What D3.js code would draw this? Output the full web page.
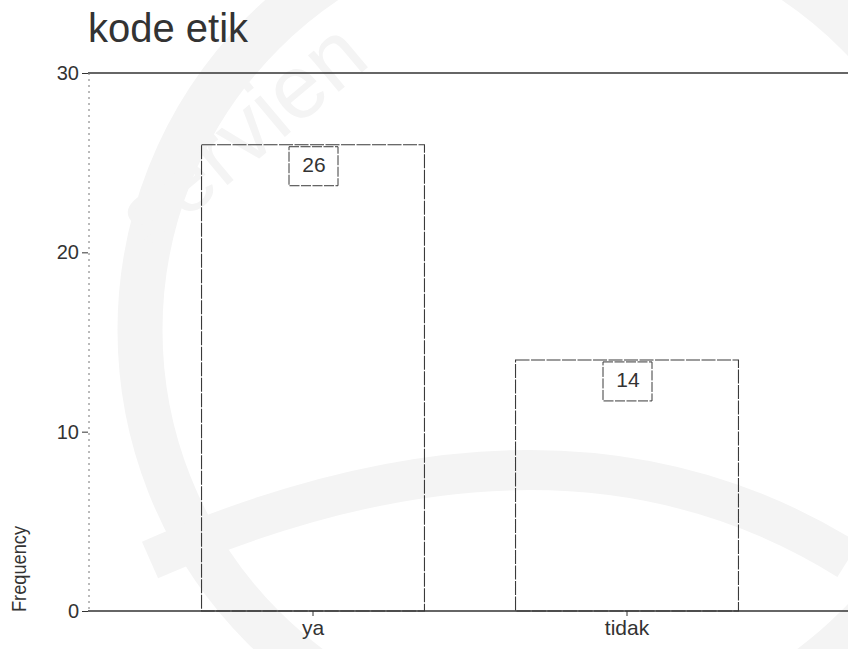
<!DOCTYPE html>
<html>
<head>
<meta charset="utf-8">
<script src="https://cdn.jsdelivr.net/npm/d3@7"></script>
<style>
  body { margin: 0; background: #fff; }
  svg { display: block; font-family: "Liberation Sans", Arial, sans-serif; }
</style>
</head>
<body>
<div id="chart"></div>
<script>
// bar chart data
const CATEGORIES = ["ya", "tidak"];
const FREQUENCIES = [26, 14];
const Y_TICKS = [0, 10, 20, 30];

const VW = 848, VH = 649;
const FONT = "'Liberation Sans', Arial, sans-serif";
const svg = d3.select("#chart").append("svg").attr("width", VW).attr("height", VH);

// faint watermark behind the chart
const wm = svg.append("g").attr("fill", "none").attr("stroke", "#f4f4f4");
wm.append("circle").attr("cx", 560).attr("cy", 330).attr("r", 420).attr("stroke-width", 45);
wm.append("path").attr("d", "M150,560 Q560,380 848,560").attr("stroke-width", 40);
svg.append("text").attr("x", 150).attr("y", 250).attr("transform", "rotate(-40,150,250)")
  .style("font-size", "90px").style("fill", "#f4f4f4").text("servien");

const plotL = 88, plotT = 73, plotB = 611;

const x = d3.scaleBand().domain(CATEGORIES).range([156, 784])
  .paddingInner(0.29).paddingOuter(0.145);
const y = d3.scaleLinear().domain([0, 30]).range([plotB, plotT]);

// title
svg.append("text").attr("x", 88).attr("y", 42)
  .style("font-size", "40px").style("fill", "#333").style("font-family", FONT).text("kode etik");

// top frame line at 30
svg.append("line").attr("x1", plotL).attr("x2", VW).attr("y1", y(30)).attr("y2", y(30))
  .attr("stroke", "#333").attr("stroke-width", 1.3);

// dotted left axis
svg.append("line").attr("x1", plotL + 1).attr("x2", plotL + 1).attr("y1", y(30)).attr("y2", y(0))
  .attr("stroke", "#777").attr("stroke-dasharray", "2,4");

// y axis ticks + labels
svg.append("g").attr("transform", `translate(${plotL},0)`)
  .call(d3.axisLeft(y).tickValues(Y_TICKS).tickSize(6).tickPadding(3))
  .call(ax => {
    ax.select(".domain").remove();
    ax.selectAll("line").attr("stroke", "#333");
    ax.selectAll("text").style("font-size", "20px").style("fill", "#333").style("font-family", FONT);
  });

// bars
svg.selectAll("rect.bar").data(CATEGORIES).enter().append("rect").attr("class", "bar")
  .attr("x", d => x(d)).attr("y", (d, i) => y(FREQUENCIES[i]))
  .attr("width", x.bandwidth()).attr("height", (d, i) => y(0) - y(FREQUENCIES[i]))
  .attr("fill", "none").attr("stroke", "#3a3a3a").attr("stroke-width", 1.1)
  .attr("stroke-dasharray", "14,1.5");

// value label boxes
CATEGORIES.forEach((c, i) => {
  const cx = x(c) + x.bandwidth() / 2, ty = y(FREQUENCIES[i]);
  svg.append("rect").attr("x", cx - 24).attr("y", ty + 2).attr("width", 49).attr("height", 39)
    .attr("fill", "#fff").attr("stroke", "#3a3a3a").attr("stroke-width", 1)
    .attr("stroke-dasharray", "10,1.5");
  svg.append("text").attr("x", cx + 1).attr("y", ty + 27).attr("text-anchor", "middle")
    .style("font-size", "21px").style("fill", "#333").style("font-family", FONT).text(FREQUENCIES[i]);
});

// x axis
svg.append("g").attr("transform", `translate(0,${plotB})`)
  .call(d3.axisBottom(x).tickSize(5).tickPadding(4).tickSizeOuter(0))
  .call(ax => {
    ax.select(".domain").attr("d", `M${plotL},0H${VW}`).attr("stroke", "#333").attr("stroke-width", 1.3);
    ax.selectAll("line").attr("stroke", "#333");
    ax.selectAll("text").style("font-size", "21px").style("fill", "#333").style("font-family", FONT);
  });

// y axis title
svg.append("text").attr("transform", "rotate(-90)").attr("x", -569).attr("y", 26)
  .attr("text-anchor", "middle").style("font-size", "21px").style("fill", "#333")
  .style("font-family", FONT).attr("textLength", 86).attr("lengthAdjust", "spacingAndGlyphs")
  .text("Frequency");
</script>
</body>
</html>
